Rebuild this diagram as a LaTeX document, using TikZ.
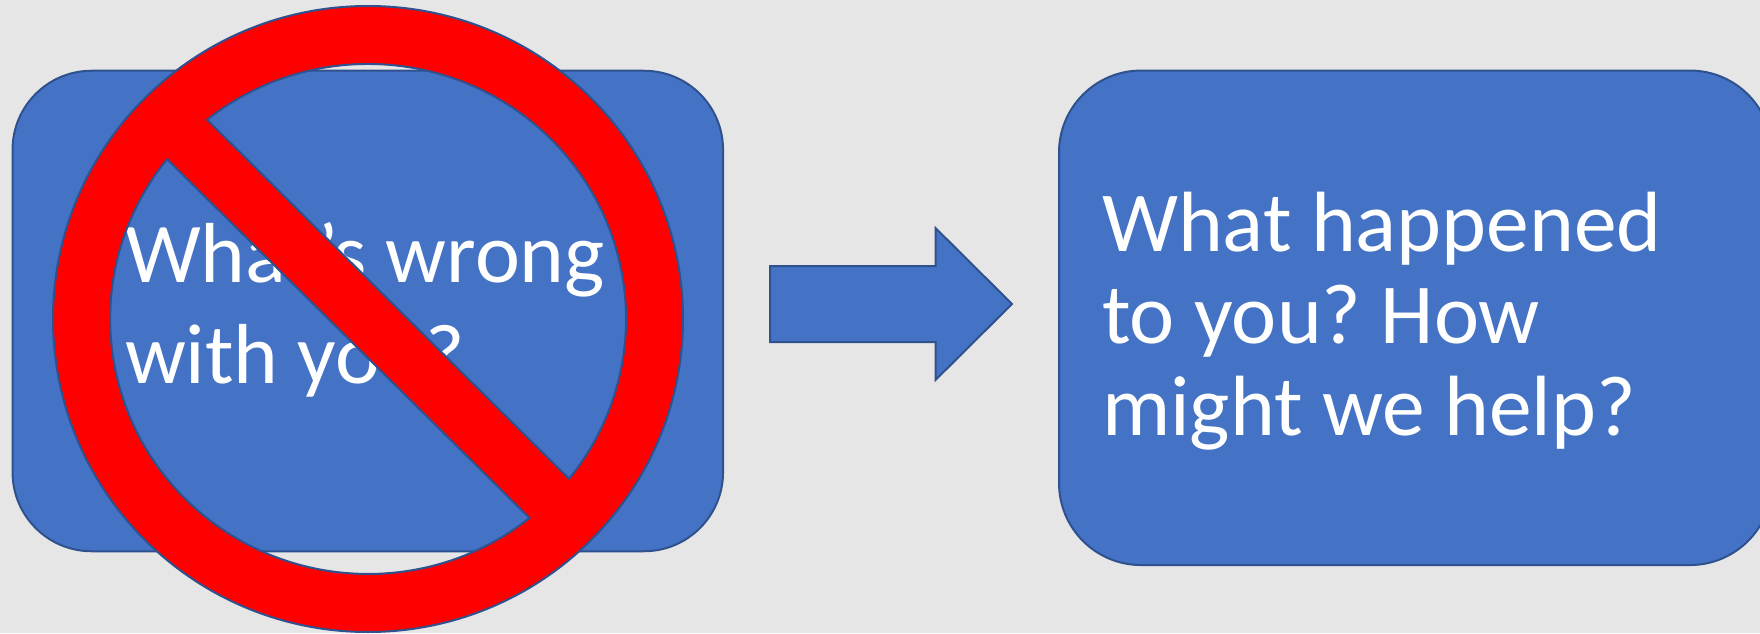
\documentclass[tikz,border=0pt]{standalone}
\usepackage{fontspec}
\setmainfont{Carlito}
\definecolor{bgc}{HTML}{E7E6E6}
\definecolor{boxfill}{HTML}{4472C4}
\definecolor{boxline}{HTML}{2F528F}
\definecolor{signred}{HTML}{FF0000}
\tikzset{
  card/.style={draw=boxline,fill=boxfill,line width=2pt,rounded corners=79pt,inner sep=0pt,outer sep=0pt},
  cardtext/.style={text=white,align=left,inner sep=0pt,outer sep=0pt,anchor=north west},
  nosign/.style={draw=boxline,fill=signred,line width=2pt,even odd rule},
  bigarrow/.style={draw=boxline,fill=boxfill,line width=2pt,miter limit=10}
}
\begin{document}
\begin{tikzpicture}[x=1pt,y=1pt]
\clip (0,0) rectangle (1760,633);
\fill[bgc] (0,0) rectangle (1760,633);
% left card
\node[card,minimum width=710.5pt,minimum height=480.5pt] (lbox) at (367.8,322) {};
\node[cardtext,font=\frenchspacing\fontsize{85.2}{101}\selectfont] (ltext) at (125,411) {What’s wrong\\with you?};
% prohibition sign
\coordinate (c) at (368,314);
\coordinate (p1) at (207.1,513.3);
\coordinate (p3) at (167.1,473.8);
\draw[nosign] (c) ellipse [x radius=315,y radius=313]
  (p1) arc[start angle=128.6,end angle=-38.8,x radius=258,y radius=255] -- cycle
  (p3) arc[start angle=141.2,end angle=308.7,x radius=258,y radius=255] -- cycle;
% arrow
\coordinate (a1) at (770,367);
\coordinate (a2) at (935.5,367);
\coordinate (a3) at (935.5,405);
\coordinate (a4) at (1012,329);
\coordinate (a5) at (935.5,253);
\coordinate (a6) at (935.5,291);
\coordinate (a7) at (770,291);
\draw[bigarrow] (a1) -- (a2) -- (a3) -- (a4) -- (a5) -- (a6) -- (a7) -- cycle;
% right card
\node[card,rounded corners=82pt,minimum width=713pt,minimum height=494.5pt] (rbox) at (1415.5,315.2) {};
\node[cardtext,font=\frenchspacing\fontsize{85.5}{92}\selectfont] (rtext) at (1102,441) {What happened\\to you? How\\might we help?};
\end{tikzpicture}
\end{document}
